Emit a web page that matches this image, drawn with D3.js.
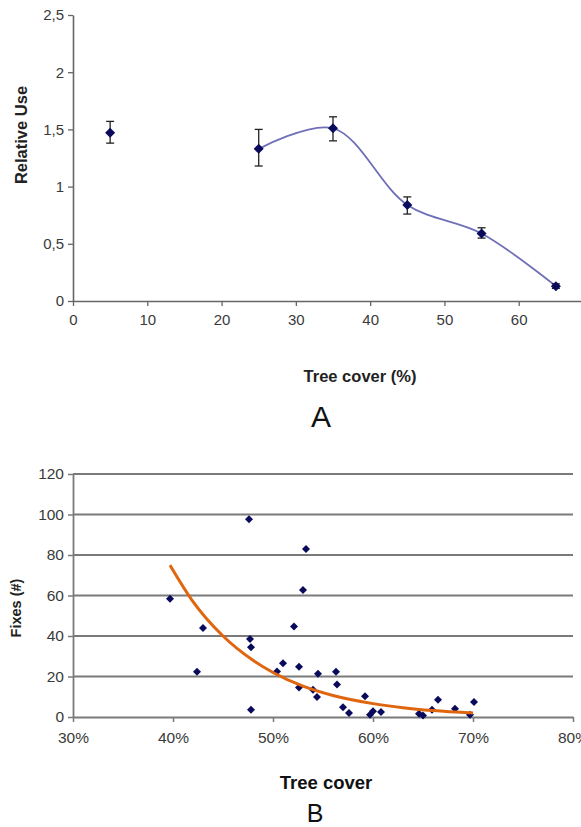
<!DOCTYPE html>
<html>
<head>
<meta charset="utf-8">
<script src="https://cdn.jsdelivr.net/npm/d3@7"></script>
<style>
  body { margin: 0; background: #fff; }
  svg { display: block; font-family: Arial, "Liberation Sans", sans-serif; }
</style>
</head>
<body>
<svg id="chart" width="581" height="827"></svg>
<script>
// ---- panel A data ----
var coverA = [5, 25, 35, 45, 55, 65];
var useA = [1.47, 1.33, 1.51, 0.84, 0.59, 0.13];
var errHi = [1.57, 1.50, 1.61, 0.91, 0.64, 0.15];
var errLo = [1.38, 1.18, 1.40, 0.76, 0.55, 0.11];
var ticksA_x = [0, 10, 20, 30, 40, 50, 60];
var ticksA_y = [0, 0.5, 1, 1.5, 2, 2.5];

// ---- panel B data ----
var coverB = [0.397, 0.424, 0.430, 0.476, 0.477, 0.478, 0.478, 0.504, 0.510, 0.521, 0.526, 0.526,
              0.533, 0.530, 0.540, 0.545, 0.544, 0.563, 0.564, 0.570, 0.576, 0.592, 0.597, 0.600,
              0.608, 0.646, 0.650, 0.659, 0.665, 0.682, 0.697, 0.701];
var fixesB = [58.4, 22.4, 43.9, 97.6, 38.5, 34.4, 3.6, 22.5, 26.5, 44.7, 24.8, 14.6,
              83, 62.7, 13.5, 21.4, 9.9, 22.4, 16.1, 4.8, 2.0, 10.2, 1.1, 2.8,
              2.5, 1.6, 0.8, 3.6, 8.5, 4.1, 1.1, 7.4];
// orange trend line
var trendX = [0.397, 0.42, 0.45, 0.48, 0.50, 0.53, 0.56, 0.60, 0.63, 0.66, 0.70];
var trendY = [75, 57, 40, 28, 22, 15.2, 10.6, 6.6, 4.6, 3.2, 2];
var ticksB_x = [0.3, 0.4, 0.5, 0.6, 0.7, 0.8];
var ticksB_y = [0, 20, 40, 60, 80, 100, 120];

var svg = d3.select("#chart");
var axisCol = "#666";

// rotated square looks like the excel diamond
function diamondPath(s) {
  return "M0," + (-s) + "L" + s + ",0L0," + s + "L" + (-s) + ",0Z";
}

// ================= panel A =================
var xA = d3.scaleLinear().domain([0, 70]).range([73, 593]);
var yA = d3.scaleLinear().domain([0, 2.5]).range([301, 15]);

var gA = svg.append("g");

var axA_y = gA.append("g")
  .attr("transform", "translate(73,0)")
  .call(d3.axisLeft(yA).tickValues(ticksA_y).tickSize(5).tickSizeOuter(0)
        .tickFormat(function(d) { return String(d).replace(".", ","); }));
var axA_x = gA.append("g")
  .attr("transform", "translate(0,301)")
  .call(d3.axisBottom(xA).tickValues(ticksA_x).tickSize(5).tickSizeOuter(0));

[axA_y, axA_x].forEach(function(a) {
  a.select(".domain").attr("stroke", axisCol).attr("stroke-width", 1.6);
  a.selectAll(".tick line").attr("stroke", axisCol).attr("stroke-width", 1.3);
  a.selectAll(".tick text").attr("fill", "#3a3a3a").attr("font-size", "15px");
});
axA_y.selectAll(".tick text").attr("x", -9);
axA_x.selectAll(".tick text").attr("y", 13);

// smoothed line (points from 25 on)
var lineA = d3.line()
  .x(function(d) { return xA(d[0]); })
  .y(function(d) { return yA(d[1]); })
  .curve(d3.curveCatmullRom.alpha(0.5));
var linePts = d3.range(1, coverA.length).map(function(i) { return [coverA[i], useA[i]]; });
gA.append("path")
  .datum(linePts)
  .attr("d", lineA)
  .attr("fill", "none")
  .attr("stroke", "#6f6fb8")
  .attr("stroke-width", 1.8);

// error bars
var eb = gA.selectAll(".eb").data(coverA).enter().append("g")
  .attr("stroke", "#222").attr("stroke-width", 1.3);
eb.append("line")
  .attr("x1", function(d) { return xA(d); }).attr("x2", function(d) { return xA(d); })
  .attr("y1", function(d, i) { return yA(errHi[i]); })
  .attr("y2", function(d, i) { return yA(errLo[i]); });
eb.append("line")
  .attr("x1", function(d) { return xA(d) - 4; }).attr("x2", function(d) { return xA(d) + 4; })
  .attr("y1", function(d, i) { return yA(errHi[i]); })
  .attr("y2", function(d, i) { return yA(errHi[i]); });
eb.append("line")
  .attr("x1", function(d) { return xA(d) - 4; }).attr("x2", function(d) { return xA(d) + 4; })
  .attr("y1", function(d, i) { return yA(errLo[i]); })
  .attr("y2", function(d, i) { return yA(errLo[i]); });

gA.selectAll(".ptA").data(coverA).enter().append("path")
  .attr("d", diamondPath(5))
  .attr("transform", function(d, i) { return "translate(" + xA(d) + "," + yA(useA[i]) + ")"; })
  .attr("fill", "#0a0a5c");

gA.append("text")
  .attr("transform", "translate(27,135) rotate(-90)")
  .attr("text-anchor", "middle")
  .attr("font-size", "16.5px").attr("font-weight", "bold").attr("fill", "#222")
  .text("Relative Use");
gA.append("text")
  .attr("x", 360).attr("y", 382)
  .attr("text-anchor", "middle")
  .attr("font-size", "16.5px").attr("font-weight", "bold").attr("fill", "#222")
  .text("Tree cover (%)");
gA.append("text")
  .attr("x", 321).attr("y", 427)
  .attr("text-anchor", "middle")
  .attr("font-size", "30px").attr("fill", "#111")
  .text("A");

// ================= panel B =================
var xB = d3.scaleLinear().domain([0.3, 0.8]).range([73, 573]);
var yB = d3.scaleLinear().domain([0, 120]).range([717, 474]);

var gB = svg.append("g");

// gridlines
gB.selectAll(".grid").data(ticksB_y.filter(function(d) { return d > 0; })).enter().append("line")
  .attr("x1", 73).attr("x2", 573)
  .attr("y1", function(d) { return yB(d); }).attr("y2", function(d) { return yB(d); })
  .attr("stroke", "#7a7a7a").attr("stroke-width", 1.8);

var axB_y = gB.append("g")
  .attr("transform", "translate(73,0)")
  .call(d3.axisLeft(yB).tickValues(ticksB_y).tickSize(5).tickSizeOuter(0));
var axB_x = gB.append("g")
  .attr("transform", "translate(0,717)")
  .call(d3.axisBottom(xB).tickValues(ticksB_x).tickSize(5).tickSizeOuter(0)
        .tickFormat(d3.format(".0%")));

[axB_y, axB_x].forEach(function(a) {
  a.select(".domain").attr("stroke", "#7a7a7a").attr("stroke-width", 1.8);
  a.selectAll(".tick line").attr("stroke", "#7a7a7a").attr("stroke-width", 1.5);
  a.selectAll(".tick text").attr("fill", "#3a3a3a").attr("font-size", "15.5px");
});
axB_y.selectAll(".tick text").attr("x", -9);
axB_x.selectAll(".tick text").attr("y", 15);

gB.selectAll(".ptB").data(coverB).enter().append("path")
  .attr("d", diamondPath(4))
  .attr("transform", function(d, i) { return "translate(" + xB(d) + "," + yB(fixesB[i]) + ")"; })
  .attr("fill", "#0a0a5c");

var trendPts = trendX.map(function(d, i) { return [d, trendY[i]]; });
gB.append("path")
  .datum(trendPts)
  .attr("d", d3.line()
    .x(function(d) { return xB(d[0]); })
    .y(function(d) { return yB(d[1]); })
    .curve(d3.curveMonotoneX))
  .attr("fill", "none")
  .attr("stroke", "#e0650f")
  .attr("stroke-width", 3);

gB.append("text")
  .attr("transform", "translate(21,608) rotate(-90)")
  .attr("text-anchor", "middle")
  .attr("font-size", "14.5px").attr("font-weight", "bold").attr("fill", "#222")
  .text("Fixes (#)");
gB.append("text")
  .attr("x", 326).attr("y", 789)
  .attr("text-anchor", "middle")
  .attr("font-size", "18.5px").attr("font-weight", "bold").attr("fill", "#111")
  .text("Tree cover");
gB.append("text")
  .attr("x", 315).attr("y", 822)
  .attr("text-anchor", "middle")
  .attr("font-size", "25px").attr("fill", "#111")
  .text("B");
</script>
</body>
</html>
